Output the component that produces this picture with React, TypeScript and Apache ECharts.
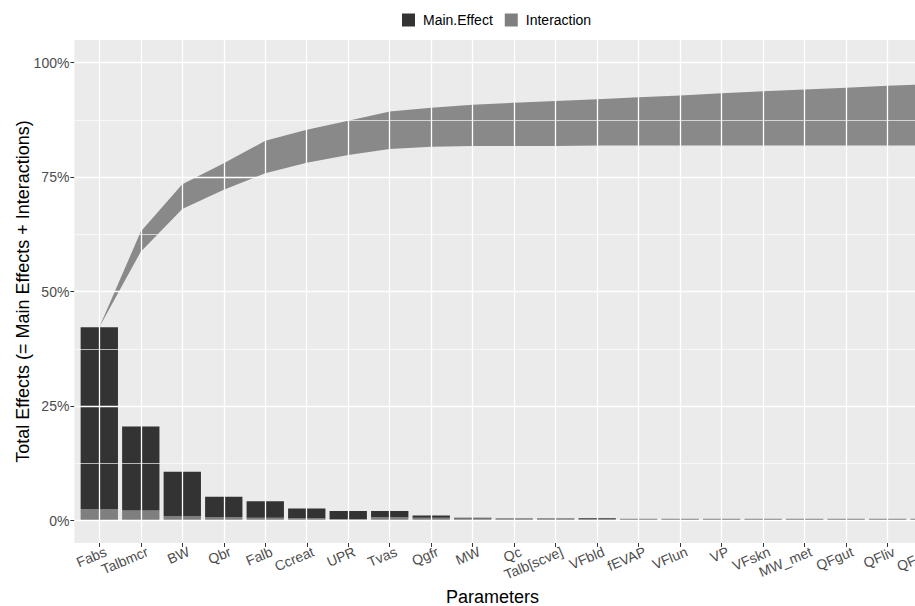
import React, { useEffect, useRef } from 'react';
import * as echarts from 'echarts';

// ---- data ----
const categories = [
  'Fabs', 'Talbmcr', 'BW', 'Qbr', 'Falb', 'Ccreat', 'UPR', 'Tvas', 'Qgfr', 'MW',
  'Qc', 'Talb[scve]', 'VFbld', 'fEVAP', 'VFlun', 'VP', 'VFskn', 'MW_met', 'QFgut', 'QFliv', 'QFskn',
];
// percent of total effects
const mainEffect = [
  39.7, 18.3, 9.65, 4.45, 3.6, 2.1, 1.8, 1.4, 0.5, 0.15,
  0.05, 0.05, 0.3, 0.02, 0.02, 0.02, 0.02, 0.02, 0.02, 0.02, 0.02,
];
const interaction = [
  2.5, 2.2, 1.0, 0.75, 0.6, 0.5, 0.3, 0.7, 0.6, 0.45,
  0.45, 0.45, 0.2, 0.38, 0.38, 0.38, 0.38, 0.38, 0.38, 0.38, 0.38,
];
// cumulative band (lower = cumulative main effects, upper = cumulative total effects)
const ribbonLower = [
  42.2, 58.7, 68.0, 72.2, 75.8, 78.1, 79.8, 81.1, 81.6, 81.75,
  81.75, 81.75, 81.9, 81.9, 81.9, 81.9, 81.9, 81.9, 81.9, 81.9, 81.9,
];
const ribbonUpper = [
  42.2, 63.1, 73.4, 78.0, 82.9, 85.3, 87.3, 89.3, 90.1, 90.8,
  91.2, 91.6, 92.0, 92.4, 92.8, 93.3, 93.7, 94.1, 94.5, 94.9, 95.3,
];
const yMajor = [0, 25, 50, 75, 100];
const yMinorLines = [12.5, 37.5, 62.5, 87.5];

const FONT = '"Liberation Sans", Arial, sans-serif';

// layout constants (pixels)
const STEP = 41.49; // px per category
const X0 = 99.3; // first category centre
const Y0 = 520.5; // 0 %
const Y100 = 62.5; // 100 %
const PXPCT = (Y0 - Y100) / 100;
const PANEL_YMIN = -4.9;
const PANEL_YMAX = 104.9;

export default function App() {
  const ref = useRef<HTMLDivElement>(null);

  useEffect(() => {
    if (!ref.current) return;
    const chart = echarts.init(ref.current, null, { renderer: 'svg' });
    const n = categories.length;
    const panelLeft = X0 - 0.6 * STEP;
    const panelWidth = (n - 1 + 1.2) * STEP;
    const panelTop = Y0 - PANEL_YMAX * PXPCT;
    const panelHeight = (PANEL_YMAX - PANEL_YMIN) * PXPCT;

    const option: any = {
      animation: false,
      textStyle: { fontFamily: FONT },
      legend: {
        data: ['Main.Effect', 'Interaction'],
        left: 397,
        top: 8,
        icon: 'rect',
        itemWidth: 13,
        itemHeight: 13,
        itemGap: 12,
        textStyle: { fontSize: 14, color: '#000', fontFamily: FONT, padding: [0, 0, 0, 3] },
        selectedMode: false,
      },
      grid: [
        {
          // panel background & grid lines
          left: panelLeft,
          top: panelTop,
          width: panelWidth,
          height: panelHeight,
          show: true,
          backgroundColor: '#EBEBEB',
          borderWidth: 0,
          containLabel: false,
          outerBoundsMode: 'none',
        },
        {
          // data grid: category centres from first to last, 0..100 %
          left: X0,
          top: Y100,
          width: (n - 1) * STEP,
          height: Y0 - Y100,
          show: false,
          containLabel: false,
          outerBoundsMode: 'none',
        },
      ],
      xAxis: [
        { type: 'value', gridIndex: 0, min: -0.6, max: n - 1 + 0.6, show: false },
        {
          type: 'category',
          gridIndex: 1,
          data: categories,
          boundaryGap: false,
          position: 'bottom',
          offset: panelTop + panelHeight - Y0,
          axisLine: { show: false, onZero: false },
          axisTick: { show: true, interval: 0, length: 4, lineStyle: { color: '#333333', width: 1 } },
          axisLabel: {
            interval: 0,
            rotate: 23,
            verticalAlign: 'top',
            margin: 3,
            padding: [0, -4, 0, 0],
            color: '#4D4D4D',
            fontSize: 14,
            fontFamily: FONT,
            hideOverlap: false,
          },
          splitLine: { show: false },
        },
      ],
      yAxis: [
        { type: 'value', gridIndex: 0, min: PANEL_YMIN, max: PANEL_YMAX, show: false },
        {
          type: 'value',
          gridIndex: 1,
          min: 0,
          max: 100,
          interval: 25,
          position: 'left',
          offset: X0 - panelLeft,
          axisLine: { show: false, onZero: false },
          axisTick: { show: true, length: 4, lineStyle: { color: '#333333', width: 1 } },
          axisLabel: { formatter: '{value}%', color: '#4D4D4D', fontSize: 14, margin: 5, fontFamily: FONT },
          splitLine: { show: false },
          name: 'Total Effects (= Main Effects + Interactions)',
          nameLocation: 'middle',
          nameGap: 42,
          nameMoveOverlap: false,
          nameTextStyle: { fontSize: 18, color: '#000', fontFamily: FONT },
        },
      ],
      graphic: [
        {
          type: 'text',
          x: 492.5,
          y: 597,
          style: {
            text: 'Parameters',
            fontSize: 18,
            fontFamily: FONT,
            fill: '#000',
            align: 'center',
            verticalAlign: 'middle',
          },
        },
      ],
      series: [
        {
          type: 'scatter',
          name: 'gridlines',
          xAxisIndex: 0,
          yAxisIndex: 0,
          data: [[-0.6, PANEL_YMIN]],
          symbolSize: 0,
          silent: true,
          z: 1,
          markLine: {
            silent: true,
            symbol: ['none', 'none'],
            label: { show: false },
            lineStyle: { color: '#FFFFFF', type: 'solid', width: 1.3 },
            emphasis: { disabled: true },
            data: [
              ...categories.map((_, i) => ({ xAxis: i })),
              ...yMajor.map((v) => ({ yAxis: v })),
              ...yMinorLines.map((v) => ({ yAxis: v, lineStyle: { color: '#FFFFFF', type: 'solid', width: 0.65 } })),
            ],
          },
        },
        {
          type: 'line',
          name: 'ribbonBase',
          xAxisIndex: 1,
          yAxisIndex: 1,
          data: ribbonLower,
          stack: 'ribbon',
          symbol: 'none',
          showSymbol: false,
          lineStyle: { opacity: 0, width: 0 },
          silent: true,
          z: 2,
        },
        {
          type: 'line',
          name: 'ribbonBand',
          xAxisIndex: 1,
          yAxisIndex: 1,
          data: ribbonUpper.map((u, i) => u - ribbonLower[i]),
          stack: 'ribbon',
          symbol: 'none',
          showSymbol: false,
          lineStyle: { opacity: 0, width: 0 },
          areaStyle: { color: '#898989', opacity: 1 },
          silent: true,
          z: 2,
        },
        {
          type: 'bar',
          name: 'Interaction',
          xAxisIndex: 1,
          yAxisIndex: 1,
          stack: 'bars',
          data: interaction,
          barWidth: '90%',
          itemStyle: { color: '#7F7F7F' },
          clip: false,
          z: 3,
        },
        {
          type: 'bar',
          name: 'Main.Effect',
          xAxisIndex: 1,
          yAxisIndex: 1,
          stack: 'bars',
          data: mainEffect,
          barWidth: '90%',
          itemStyle: { color: '#333333' },
          clip: false,
          z: 3,
        },
      ],
    };
    chart.setOption(option);
    return () => chart.dispose();
  }, []);

  return (
    <div
      ref={ref}
      style={{ position: 'absolute', left: 0, top: 0, width: 915, height: 606, background: '#FFFFFF' }}
    />
  );
}
